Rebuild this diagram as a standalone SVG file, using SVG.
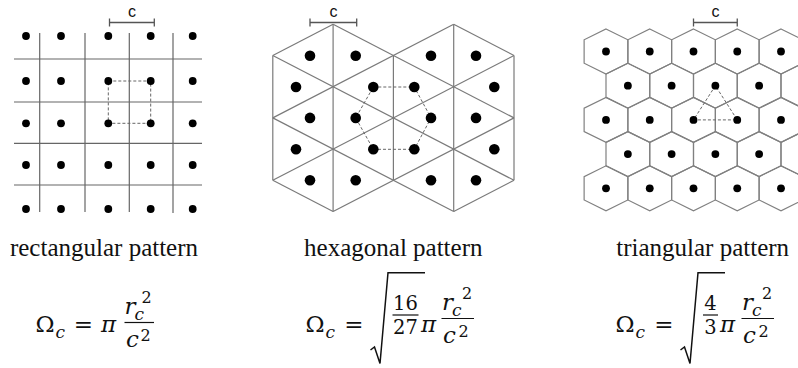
<svg xmlns="http://www.w3.org/2000/svg" xmlns:xlink="http://www.w3.org/1999/xlink" width="798" height="368" viewBox="0 0 798 368">
<style>
.bg{fill:#fff}
.grid{stroke:#666;stroke-width:1.2;fill:none}
.tri{stroke:#7a7a7a;stroke-width:1.2;fill:none}
.hex{stroke:#808080;stroke-width:1.2;fill:none}
.dash{stroke:#666;stroke-width:1;stroke-dasharray:3 2;fill:none}
.brk{stroke:#555;stroke-width:1.3;fill:none}
.dot{fill:#000}
.ct{font-family:"Liberation Sans",Arial,sans-serif;font-size:16px;fill:#111;text-anchor:middle}
.lbl{font-family:"Liberation Serif","Times New Roman",serif;font-size:25px;fill:#111;text-anchor:middle}
.m{font-family:"DejaVu Serif",serif;font-size:23px;fill:#111}
.mi{font-family:"DejaVu Serif",serif;font-size:23px;font-style:italic;fill:#111}
.sub{font-family:"DejaVu Serif",serif;font-size:17px;font-style:italic;fill:#111}
.sup{font-family:"DejaVu Serif",serif;font-size:16px;fill:#111}
.dg{font-family:"DejaVu Serif",serif;font-size:19.5px;fill:#111;text-anchor:middle}
.eq{font-family:"DejaVu Serif",serif;font-size:23px;fill:#111;text-anchor:middle}
.fb{stroke:#111;stroke-width:1.2}
.rad{stroke:#111;stroke-width:1.5;fill:none;stroke-linejoin:miter}
</style>
<defs>
<polygon id="hx" class="hex" points="0,-22.5 21.875,-11.7 21.875,11.7 0,22.5 -21.875,11.7 -21.875,-11.7"/>
</defs>
<rect class="bg" x="0" y="0" width="798" height="368"/>

<!-- Rectangular pattern -->
<g id="rectangular">
  <g class="grid">
    <line x1="39.7" y1="33" x2="39.7" y2="212"/>
    <line x1="85" y1="33" x2="85" y2="212"/>
    <line x1="129.3" y1="33" x2="129.3" y2="212"/>
    <line x1="173" y1="33" x2="173" y2="213"/>
    <line x1="14" y1="59" x2="202" y2="59"/>
    <line x1="14" y1="102" x2="202" y2="102"/>
    <line x1="14" y1="143.3" x2="202" y2="143.3"/>
    <line x1="14" y1="185" x2="202" y2="185"/>
  </g>
  <rect class="dash" x="108.3" y="81" width="42.4" height="42.3"/>
  <g class="dot">
    <circle cx="26" cy="36" r="3.9"/><circle cx="61" cy="36" r="3.9"/><circle cx="108.3" cy="36" r="3.9"/><circle cx="150.7" cy="36" r="3.9"/><circle cx="192.7" cy="36" r="3.9"/>
    <circle cx="26" cy="81" r="3.9"/><circle cx="61" cy="81" r="3.9"/><circle cx="108.3" cy="81" r="3.9"/><circle cx="150.7" cy="81" r="3.9"/><circle cx="192.7" cy="81" r="3.9"/>
    <circle cx="26" cy="123.3" r="3.9"/><circle cx="61" cy="123.3" r="3.9"/><circle cx="108.3" cy="123.3" r="3.9"/><circle cx="150.7" cy="123.3" r="3.9"/><circle cx="192.7" cy="123.3" r="3.9"/>
    <circle cx="26" cy="165" r="3.9"/><circle cx="61" cy="165" r="3.9"/><circle cx="108.3" cy="165" r="3.9"/><circle cx="150.7" cy="165" r="3.9"/><circle cx="192.7" cy="165" r="3.9"/>
    <circle cx="26" cy="209" r="3.9"/><circle cx="61" cy="209" r="3.9"/><circle cx="108.3" cy="209" r="3.9"/><circle cx="150.7" cy="209" r="3.9"/><circle cx="192.7" cy="209" r="3.9"/>
  </g>
  <path class="brk" d="M109.5,22.5 H154.3 M109.5,18.5 V26.5 M154.3,18.5 V26.5"/>
  <text class="ct" x="131.9" y="16.5">c</text>
</g>

<!-- Hexagonal pattern -->
<g id="hexagonal">
  <g class="tri">
    <line x1="272.8" y1="55.5" x2="272.8" y2="180.3"/>
    <line x1="333.1" y1="24.3" x2="333.1" y2="211.5"/>
    <line x1="393.4" y1="55.5" x2="393.4" y2="180.3"/>
    <line x1="453.7" y1="24.3" x2="453.7" y2="211.5"/>
    <line x1="514" y1="55.5" x2="514" y2="180.3"/>
    <line x1="272.8" y1="55.5" x2="514" y2="180.3"/>
    <line x1="272.8" y1="117.9" x2="453.7" y2="211.5"/>
    <line x1="272.8" y1="180.3" x2="333.1" y2="211.5"/>
    <line x1="333.1" y1="24.3" x2="514" y2="117.9"/>
    <line x1="453.7" y1="24.3" x2="514" y2="55.5"/>
    <line x1="272.8" y1="180.3" x2="514" y2="55.5"/>
    <line x1="272.8" y1="117.9" x2="453.7" y2="24.3"/>
    <line x1="272.8" y1="55.5" x2="333.1" y2="24.3"/>
    <line x1="333.1" y1="211.5" x2="514" y2="117.9"/>
    <line x1="453.7" y1="211.5" x2="514" y2="180.3"/>
  </g>
  <polygon class="dash" points="373.3,87 414.3,87 431,117.9 414.3,149.3 373.3,149.3 355.7,117.9"/>
  <g class="dot">
    <circle cx="310" cy="55.8" r="5.3"/><circle cx="355.7" cy="55.8" r="5.3"/><circle cx="431" cy="55.8" r="5.3"/><circle cx="476" cy="55.8" r="5.3"/>
    <circle cx="296" cy="87" r="5.3"/><circle cx="373.3" cy="87" r="5.3"/><circle cx="414.3" cy="87" r="5.3"/><circle cx="494.3" cy="87" r="5.3"/>
    <circle cx="310" cy="117.9" r="5.3"/><circle cx="355.7" cy="117.9" r="5.3"/><circle cx="431" cy="117.9" r="5.3"/><circle cx="476" cy="117.9" r="5.3"/>
    <circle cx="296" cy="149.3" r="5.3"/><circle cx="373.3" cy="149.3" r="5.3"/><circle cx="414.3" cy="149.3" r="5.3"/><circle cx="494.3" cy="149.3" r="5.3"/>
    <circle cx="310" cy="180.3" r="5.3"/><circle cx="355.7" cy="180.3" r="5.3"/><circle cx="431" cy="180.3" r="5.3"/><circle cx="476" cy="180.3" r="5.3"/>
  </g>
  <path class="brk" d="M310,22.5 H356.7 M310,18.5 V26.5 M356.7,18.5 V26.5"/>
  <text class="ct" x="333.5" y="16.5">c</text>
</g>

<!-- Triangular pattern -->
<g id="triangular">
  <use xlink:href="#hx" x="606" y="51.5"/><use xlink:href="#hx" x="649.75" y="51.5"/><use xlink:href="#hx" x="693.5" y="51.5"/><use xlink:href="#hx" x="737.25" y="51.5"/><use xlink:href="#hx" x="781" y="51.5"/>
  <use xlink:href="#hx" x="627.875" y="85.7"/><use xlink:href="#hx" x="671.625" y="85.7"/><use xlink:href="#hx" x="715.375" y="85.7"/><use xlink:href="#hx" x="759.125" y="85.7"/><use xlink:href="#hx" x="802.875" y="85.7"/>
  <use xlink:href="#hx" x="606" y="119.9"/><use xlink:href="#hx" x="649.75" y="119.9"/><use xlink:href="#hx" x="693.5" y="119.9"/><use xlink:href="#hx" x="737.25" y="119.9"/><use xlink:href="#hx" x="781" y="119.9"/>
  <use xlink:href="#hx" x="627.875" y="154.1"/><use xlink:href="#hx" x="671.625" y="154.1"/><use xlink:href="#hx" x="715.375" y="154.1"/><use xlink:href="#hx" x="759.125" y="154.1"/><use xlink:href="#hx" x="802.875" y="154.1"/>
  <use xlink:href="#hx" x="606" y="188.3"/><use xlink:href="#hx" x="649.75" y="188.3"/><use xlink:href="#hx" x="693.5" y="188.3"/><use xlink:href="#hx" x="737.25" y="188.3"/><use xlink:href="#hx" x="781" y="188.3"/>
  <polygon class="dash" points="715.375,85.7 693.5,119.9 737.25,119.9"/>
  <g class="dot">
    <circle cx="606" cy="51.5" r="3.9"/><circle cx="649.75" cy="51.5" r="3.9"/><circle cx="693.5" cy="51.5" r="3.9"/><circle cx="737.25" cy="51.5" r="3.9"/><circle cx="781" cy="51.5" r="3.9"/>
    <circle cx="627.875" cy="85.7" r="3.9"/><circle cx="671.625" cy="85.7" r="3.9"/><circle cx="715.375" cy="85.7" r="3.9"/><circle cx="759.125" cy="85.7" r="3.9"/>
    <circle cx="606" cy="119.9" r="3.9"/><circle cx="649.75" cy="119.9" r="3.9"/><circle cx="693.5" cy="119.9" r="3.9"/><circle cx="737.25" cy="119.9" r="3.9"/><circle cx="781" cy="119.9" r="3.9"/>
    <circle cx="627.875" cy="154.1" r="3.9"/><circle cx="671.625" cy="154.1" r="3.9"/><circle cx="715.375" cy="154.1" r="3.9"/><circle cx="759.125" cy="154.1" r="3.9"/>
    <circle cx="606" cy="188.3" r="3.9"/><circle cx="649.75" cy="188.3" r="3.9"/><circle cx="693.5" cy="188.3" r="3.9"/><circle cx="737.25" cy="188.3" r="3.9"/><circle cx="781" cy="188.3" r="3.9"/>
  </g>
  <path class="brk" d="M693.5,22.5 H737.25 M693.5,18.5 V26.5 M737.25,18.5 V26.5"/>
  <text class="ct" x="715.4" y="16.5">c</text>
</g>

<!-- Labels -->
<text class="lbl" x="104" y="256">rectangular pattern</text>
<text class="lbl" x="393.3" y="256">hexagonal pattern</text>
<text class="lbl" x="702.7" y="256">triangular pattern</text>

<!-- Formula: rectangular -->
<g id="formula-rect">
  <text class="m" x="35.5" y="331.5">Ω</text>
  <text class="sub" x="55.5" y="337.5">c</text>
  <text class="eq" x="83.5" y="331.5">=</text>
  <text class="mi" x="101" y="331.5">π</text>
  <line class="fb" x1="124.5" y1="322.5" x2="154" y2="322.5"/>
  <text class="mi" x="124.5" y="314">r</text>
  <text class="sub" x="134.5" y="319.5">c</text>
  <text class="sup" x="141.5" y="302.5">2</text>
  <text class="mi" x="126" y="346.5">c</text>
  <text class="sup" x="140.5" y="340.5">2</text>
</g>

<!-- Formula: hexagonal -->
<g id="formula-hex">
  <text class="m" x="305.5" y="331.5">Ω</text>
  <text class="sub" x="325.5" y="337.5">c</text>
  <text class="eq" x="354" y="331.5">=</text>
  <path class="rad" d="M370.5,350 L374.5,347 L380,363.5 L388,272.7 H425"/>
  <text class="dg" x="405.5" y="310">16</text>
  <line class="fb" x1="392.5" y1="315" x2="418.5" y2="315"/>
  <text class="dg" x="405.5" y="334">27</text>
  <text class="mi" x="421" y="331.5">π</text>
  <line class="fb" x1="441.5" y1="318.5" x2="474" y2="318.5"/>
  <text class="mi" x="442" y="310">r</text>
  <text class="sub" x="452" y="315.5">c</text>
  <text class="sup" x="462" y="298.5">2</text>
  <text class="mi" x="443" y="342.5">c</text>
  <text class="sup" x="458.5" y="336.5">2</text>
</g>

<!-- Formula: triangular -->
<g id="formula-tri">
  <text class="m" x="615.5" y="331.5">Ω</text>
  <text class="sub" x="635.5" y="337.5">c</text>
  <text class="eq" x="664" y="331.5">=</text>
  <path class="rad" d="M680.5,350 L684.5,347 L690,363.5 L698,272.7 H725"/>
  <text class="dg" x="710.5" y="310">4</text>
  <line class="fb" x1="703" y1="315" x2="718" y2="315"/>
  <text class="dg" x="710.5" y="334">3</text>
  <text class="mi" x="720" y="331.5">π</text>
  <line class="fb" x1="741.5" y1="318.5" x2="774" y2="318.5"/>
  <text class="mi" x="742" y="310">r</text>
  <text class="sub" x="752" y="315.5">c</text>
  <text class="sup" x="762" y="298.5">2</text>
  <text class="mi" x="743" y="342.5">c</text>
  <text class="sup" x="758.5" y="336.5">2</text>
</g>
</svg>
